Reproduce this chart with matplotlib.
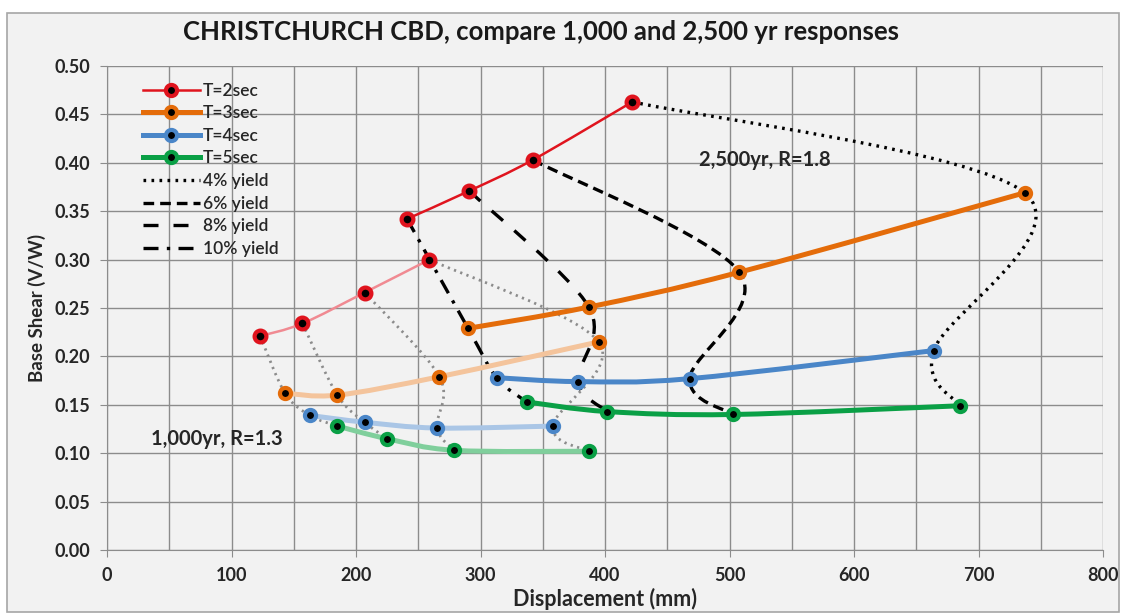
import numpy as np
import matplotlib.pyplot as plt
from matplotlib.path import Path
from matplotlib.patches import PathPatch, Rectangle
from matplotlib.lines import Line2D

plt.rcParams['font.family'] = ['Lato', 'DejaVu Sans']

# 2,500 yr responses (R=1.8), points ordered by decreasing yield (10%, 8%, 6%, 4%)
disp_2500 = {
    'T=2sec': [241, 291, 342, 422],
    'T=3sec': [290, 387, 508, 737],
    'T=4sec': [313, 378, 468, 664],
    'T=5sec': [337, 402, 503, 685],
}
shear_2500 = {
    'T=2sec': [0.342, 0.371, 0.403, 0.463],
    'T=3sec': [0.229, 0.251, 0.287, 0.369],
    'T=4sec': [0.178, 0.174, 0.177, 0.206],
    'T=5sec': [0.153, 0.143, 0.140, 0.149],
}
# 1,000 yr responses (R=1.3)
disp_1000 = {
    'T=2sec': [123, 157, 207, 259],
    'T=3sec': [143, 185, 267, 395],
    'T=4sec': [163, 207, 265, 358],
    'T=5sec': [185, 225, 279, 387],
}
shear_1000 = {
    'T=2sec': [0.221, 0.234, 0.266, 0.300],
    'T=3sec': [0.162, 0.160, 0.179, 0.215],
    'T=4sec': [0.139, 0.132, 0.126, 0.128],
    'T=5sec': [0.128, 0.115, 0.103, 0.102],
}
periods = ['T=2sec', 'T=3sec', 'T=4sec', 'T=5sec']
yields = ['10% yield', '8% yield', '6% yield', '4% yield']

colors = {'T=2sec': '#e0141e', 'T=3sec': '#e46c0a', 'T=4sec': '#4a86c8', 'T=5sec': '#0aa046'}
light = {'T=2sec': '#f08a92', 'T=3sec': '#f4c49c', 'T=4sec': '#aac6e6', 'T=5sec': '#80cf9c'}
widths = {'T=2sec': 1.8, 'T=3sec': 3.6, 'T=4sec': 3.6, 'T=5sec': 3.6}
styles = {'4% yield': (0, (0.8, 1.6)), '6% yield': (0, (3.2, 1.8)),
          '8% yield': (0, (4.5, 4.5)), '10% yield': (0, (4.5, 2.5, 1, 2.5))}


def smooth(ax, x, y, **kw):
    # Excel-style smoothed line drawn as cubic Bezier path through the points
    p = np.column_stack([x, y]).astype(float)
    n = len(p)
    verts = [p[0]]
    codes = [Path.MOVETO]
    for i in range(n - 1):
        p0 = p[i - 1] if i > 0 else p[i]
        p3 = p[i + 2] if i + 2 < n else p[i + 1]
        c1 = p[i] + (p[i + 1] - p0) / 6
        c2 = p[i + 1] - (p3 - p[i]) / 6
        verts += [c1, c2, p[i + 1]]
        codes += [Path.CURVE4] * 3
    ax.add_patch(PathPatch(Path(verts, codes), fill=False, **kw))


fig = plt.figure(figsize=(11.25, 6.16), dpi=100, facecolor='white')
fig.patches.append(Rectangle((7 / 1125, 4 / 616), 1112 / 1125, 599 / 616, transform=fig.transFigure,
                             facecolor='#f2f2f2', edgecolor='#a6a6a6', lw=1.2, zorder=-10))
ax = fig.add_axes([107 / 1125, 66 / 616, 996 / 1125, 484 / 616])
ax.set_facecolor('#f2f2f2')

# yield lines (connect the same yield point across periods)
for j, yl in enumerate(yields):
    xs = [disp_1000[t][j] for t in periods]
    ys = [shear_1000[t][j] for t in periods]
    smooth(ax, xs, ys, edgecolor='#8c8c8c', lw=2.0, linestyle=(0, (0.8, 1.6)), zorder=3)
    xs = [disp_2500[t][j] for t in periods]
    ys = [shear_2500[t][j] for t in periods]
    smooth(ax, xs, ys, edgecolor='black', lw=2.4, linestyle=styles[yl], zorder=3)

# period curves
for t in periods:
    ms = 8.5 if t == 'T=2sec' else 8
    smooth(ax, disp_1000[t], shear_1000[t], edgecolor=light[t], lw=widths[t], zorder=4)
    ax.plot(disp_1000[t], shear_1000[t], 'o', ms=ms, mfc='black', mec=colors[t], mew=3, zorder=6)
    smooth(ax, disp_2500[t], shear_2500[t], edgecolor=colors[t], lw=widths[t], zorder=5)
    ax.plot(disp_2500[t], shear_2500[t], 'o', ms=ms, mfc='black', mec=colors[t], mew=3, zorder=6)

ax.set_xlim(0, 800)
ax.set_ylim(0, 0.5)
ax.set_xticks(np.arange(0, 801, 100))
ax.set_xticks(np.arange(50, 800, 100), minor=True)
ax.set_yticks(np.arange(0, 0.501, 0.05))
ax.set_yticklabels(['%.2f' % v for v in np.arange(0, 0.501, 0.05)])
ax.grid(True, which='both', color='#8c8c8c', lw=1.0)
ax.set_axisbelow(True)
ax.tick_params(axis='x', which='minor', length=0)
ax.tick_params(axis='both', which='major', length=5, color='#8c8c8c', labelsize=13, pad=7)
for lab in ax.get_xticklabels() + ax.get_yticklabels():
    lab.set_fontweight('bold')
    lab.set_color('#262626')
for s in ['top', 'right']:
    ax.spines[s].set_visible(False)
for s in ['left', 'bottom']:
    ax.spines[s].set_color('#8c8c8c')

ax.set_xlabel('Displacement (mm)', fontsize=15.5, fontweight='bold', color='#262626', labelpad=3)
ax.set_ylabel('Base Shear (V/W)', fontsize=13.5, fontweight='bold', color='#262626', labelpad=6)
fig.text(0.481, 0.948, 'CHRISTCHURCH CBD, compare 1,000 and 2,500 yr responses',
         ha='center', va='center', fontsize=18.5, fontweight='bold', color='#1a1a1a')

ax.text(528, 0.403, '2,500yr, R=1.8', ha='center', va='center', fontsize=14.5, fontweight='bold', color='#262626')
ax.text(88, 0.1147, '1,000yr, R=1.3', ha='center', va='center', fontsize=14.5, fontweight='bold', color='#262626')

handles = []
for t in periods:
    handles.append(Line2D([], [], color=colors[t], lw=widths[t], marker='o', ms=8,
                          mfc='black', mec=colors[t], mew=3, label=t))
for yl in ['4% yield', '6% yield', '8% yield', '10% yield']:
    handles.append(Line2D([], [], color='black', lw=2.4, linestyle=styles[yl], label=yl))
leg = ax.legend(handles=handles, loc='upper left', bbox_to_anchor=(0.029, 0.98), frameon=False,
                fontsize=12.5, handlelength=3.3, handletextpad=0.15, labelspacing=0.38, borderaxespad=0)
for txt in leg.get_texts():
    txt.set_color('#262626')
    txt.set_fontweight('semibold')

plt.savefig('out.png', dpi=100, facecolor=fig.get_facecolor())
